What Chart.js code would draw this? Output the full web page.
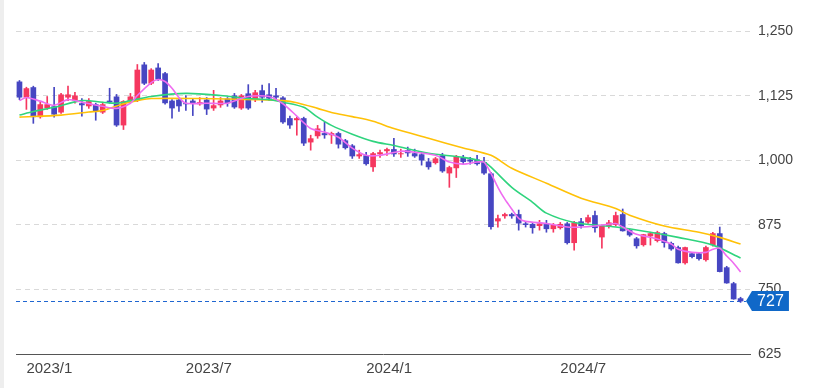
<!DOCTYPE html>
<html>
<head>
<meta charset="utf-8">
<script src="https://cdn.jsdelivr.net/npm/chart.js@4.4.1/dist/chart.umd.min.js"></script>
<style>
  body { margin: 0; background: #fff; }
  #wrap { position: relative; width: 817px; height: 388px; }
  #edge { position: absolute; left: 0; top: 0; width: 4px; height: 388px; background: #eeeeee; }
</style>
</head>
<body>
<div id="wrap"><canvas id="chart" width="817" height="388"></canvas><div id="edge"></div></div>
<script>
// weekly candles
const opens = [1153,1122,1142,1084,1101,1105,1093,1122,1116,1111, 1105,1109,1093,1116,1124,1068,1115,1116,1186,1149,
  1180,1169,1116,1118,1111,1116,1109,1118,1101,1107, 1120,1126,1101,1130,1118,1136,1128,1126,1122,1082,
  1078,1082,1035,1047,1053,1049,1053,1039,1029,1008, 1010,987,1012,1018,1022,1012,1020,1014,1012,998,
  995,1010,975,985,1006,1002,1002,997,975,882, 892,896,896,878,877,873,878,867,869,878,
  840,882,880,894,851,873,875,896,865,849, 836,853,844,859,840,832,801,820,820,807,
  836,859,793,762,733];
const highs = [1155,1142,1144,1113,1124,1142,1130,1144,1132,1120, 1120,1111,1113,1140,1128,1116,1130,1186,1190,1178,
  1188,1171,1118,1120,1126,1120,1122,1122,1136,1122, 1122,1130,1128,1147,1136,1146,1149,1140,1124,1086,
  1084,1084,1049,1068,1074,1055,1055,1041,1031,1020, 1016,1016,1020,1024,1043,1022,1026,1022,1016,1004,
  1006,1014,989,1010,1010,1006,1010,1006,977,894, 898,898,904,882,880,884,884,878,880,880,
  882,888,894,902,875,884,900,906,867,851, 857,861,863,861,842,834,832,822,822,834,
  861,871,795,764,735];
const lows = [1118,1099,1072,1082,1099,1084,1091,1116,1111,1086, 1101,1078,1091,1111,1066,1060,1113,1114,1147,1147,
  1155,1109,1082,1095,1097,1087,1107,1089,1097,1103, 1105,1101,1099,1099,1114,1113,1116,1116,1072,1062,
  1049,1029,1020,1043,1043,1033,1024,1022,1004,1004, 991,979,1006,1010,1008,1006,1008,1006,991,983,
  993,977,948,967,993,993,991,973,867,871, 888,888,865,871,859,865,861,861,867,838,
  826,869,878,861,830,869,873,863,853,830, 834,836,842,832,826,801,799,811,807,805,
  834,784,762,731,725];
const closes = [1122,1140,1084,1109,1109,1089,1128,1128,1126,1107, 1115,1095,1109,1113,1068,1115,1124,1176,1149,1176,
  1157,1111,1101,1105,1109,1111,1113,1099,1107,1116, 1111,1103,1126,1101,1132,1122,1120,1122,1074,1068,
  1082,1033,1043,1062,1049,1053,1031,1024,1008,1012, 993,1014,1016,1022,1012,1014,1014,1008,1000,987,
  1004,979,987,1008,997,998,993,975,871,888, 896,892,878,875,869,878,867,875,877,840,
  880,873,890,869,873,880,894,863,855,834, 857,859,861,840,828,801,832,813,809,832,
  859,784,762,731,727];

// moving average lines, sampled at some candles
const pinkIdx = [0,1,3,5,7,9,12,14,16,17,19,20,21,22,23,24,27,30,33,36,38,40,42,44,46,48,50,52,55,57,60,62,64,66,67,68,69,70,71,72,73,76,79,81,83,86,87,89,92,94,95,97,99,100,101,102,103,104];
const pinkVal = [1116,1122,1115,1107,1118,1113,1105,1101,1111,1126,1151,1157,1153,1140,1122,1111,1111,1111,1124,1124,1110,1086,1062,1055,1045,1024,1010,1010,1018,1016,1010,997,993,997,997,975,948,925,906,888,882,878,871,871,873,878,871,857,848,838,828,822,822,828,830,815,801,784];
const greenIdx = [0,2,5,9,12,14,16,19,24,29,33,36,38,41,43,45,48,51,54,59,64,67,68,71,74,76,80,86,91,95,100,104];
const greenVal = [1088,1095,1103,1116,1113,1111,1116,1124,1130,1126,1120,1118,1113,1103,1084,1068,1051,1037,1029,1014,1006,997,987,948,919,898,880,871,861,851,836,811];
const yellowIdx = [0,6,10,12,15,17,19,26,34,38,40,43,45,48,51,54,59,64,68,71,76,81,86,88,93,98,101,104];
const yellowVal = [1084,1088,1094,1097,1110,1116,1120,1120,1118,1116,1112,1101,1093,1085,1076,1062,1043,1024,1010,985,956,927,907,894,873,861,851,838];

const tickIndex = [1, 24, 50, 78];
const tickText = ['2023/1', '2023/7', '2024/1', '2024/7'];
const yTicks = [625, 750, 875, 1000, 1125, 1250];

const UP = '#f5375f';
const DOWN = '#4646c2';

// one empty slot after the last week keeps the right margin
const labels = [];
for (let i = 0; i <= closes.length; i++) {
  const k = tickIndex.indexOf(i);
  labels.push(k >= 0 ? tickText[k] : '');
}

function spread(idx, vals) {
  const out = new Array(closes.length).fill(null);
  idx.forEach((k, j) => { out[k] = vals[j]; });
  return out;
}

const colors = closes.map((c, i) => c >= opens[i] ? UP : DOWN);
const bodies = opens.map((o, i) => [o, closes[i]]);
const wicks = lows.map((l, i) => [l, highs[i]]);

const lastPrice = {
  id: 'lastPrice',
  beforeDatasetsDraw(chart) {
    const {ctx, chartArea, scales: {y}} = chart;
    const py = Math.round(y.getPixelForValue(closes[closes.length - 1])) + 0.5;
    ctx.save();
    ctx.strokeStyle = '#1f66d1';
    ctx.lineWidth = 1;
    ctx.setLineDash([4, 3]);
    ctx.beginPath();
    ctx.moveTo(chartArea.left, py);
    ctx.lineTo(chartArea.right - 5, py);
    ctx.stroke();
    ctx.restore();
  },
  afterDraw(chart) {
    const {ctx, chartArea, scales: {y}} = chart;
    const v = closes[closes.length - 1];
    const py = Math.round(y.getPixelForValue(v));
    const tip = chartArea.right - 5;
    const left = chartArea.right + 1;
    const right = chartArea.right + 38;
    ctx.save();
    ctx.fillStyle = '#1068c8';
    ctx.beginPath();
    ctx.moveTo(tip, py);
    ctx.lineTo(left, py - 10);
    ctx.lineTo(right, py - 10);
    ctx.lineTo(right, py + 10);
    ctx.lineTo(left, py + 10);
    ctx.closePath();
    ctx.fill();
    ctx.fillStyle = '#fff';
    ctx.font = '16px "Liberation Sans", Arial, sans-serif';
    ctx.textAlign = 'center';
    ctx.textBaseline = 'middle';
    ctx.fillText(String(v), (left + right) / 2, py + 1);
    ctx.restore();
  }
};

Chart.defaults.font.family = '"Liberation Sans", Arial, sans-serif';

new Chart(document.getElementById('chart'), {
  data: {
    labels: labels,
    datasets: [
      { type: 'line', data: spread(pinkIdx, pinkVal), borderColor: '#ef6cf0', borderWidth: 1.6,
        pointRadius: 0, spanGaps: true, tension: 0.25, order: 0 },
      { type: 'line', data: spread(greenIdx, greenVal), borderColor: '#2fd47e', borderWidth: 1.6,
        pointRadius: 0, spanGaps: true, tension: 0.3, order: 0 },
      { type: 'line', data: spread(yellowIdx, yellowVal), borderColor: '#ffc107', borderWidth: 1.6,
        pointRadius: 0, spanGaps: true, tension: 0.3, order: 0 },
      { type: 'bar', data: bodies, backgroundColor: colors, grouped: false,
        barPercentage: 0.82, categoryPercentage: 1, minBarLength: 1, order: 1 },
      { type: 'bar', data: wicks, backgroundColor: colors, grouped: false,
        barThickness: 1, order: 2 }
    ]
  },
  options: {
    responsive: false,
    animation: false,
    devicePixelRatio: 1,
    layout: { padding: { left: 16, right: 17, top: 16, bottom: 4 } },
    plugins: { legend: { display: false }, tooltip: { enabled: false } },
    scales: {
      x: {
        grid: { display: false, drawTicks: false },
        border: { display: true, color: '#555', width: 1 },
        ticks: { autoSkip: false, maxRotation: 0, align: 'start', padding: 6,
          color: '#444', font: { size: 15 } }
      },
      y: {
        position: 'right',
        min: 625,
        max: 1280,
        afterBuildTicks: axis => { axis.ticks = yTicks.map(v => ({ value: v })); },
        grid: { drawTicks: false, color: c => c.tick && c.tick.value === 625 ? 'rgba(0,0,0,0)' : '#d9d9d9' },
        border: { display: false, dash: [5, 4] },
        ticks: { padding: 7, color: '#444', font: { size: 14 },
          callback: v => v.toLocaleString('en-US') }
      }
    }
  },
  plugins: [lastPrice]
});
</script>
</body>
</html>
